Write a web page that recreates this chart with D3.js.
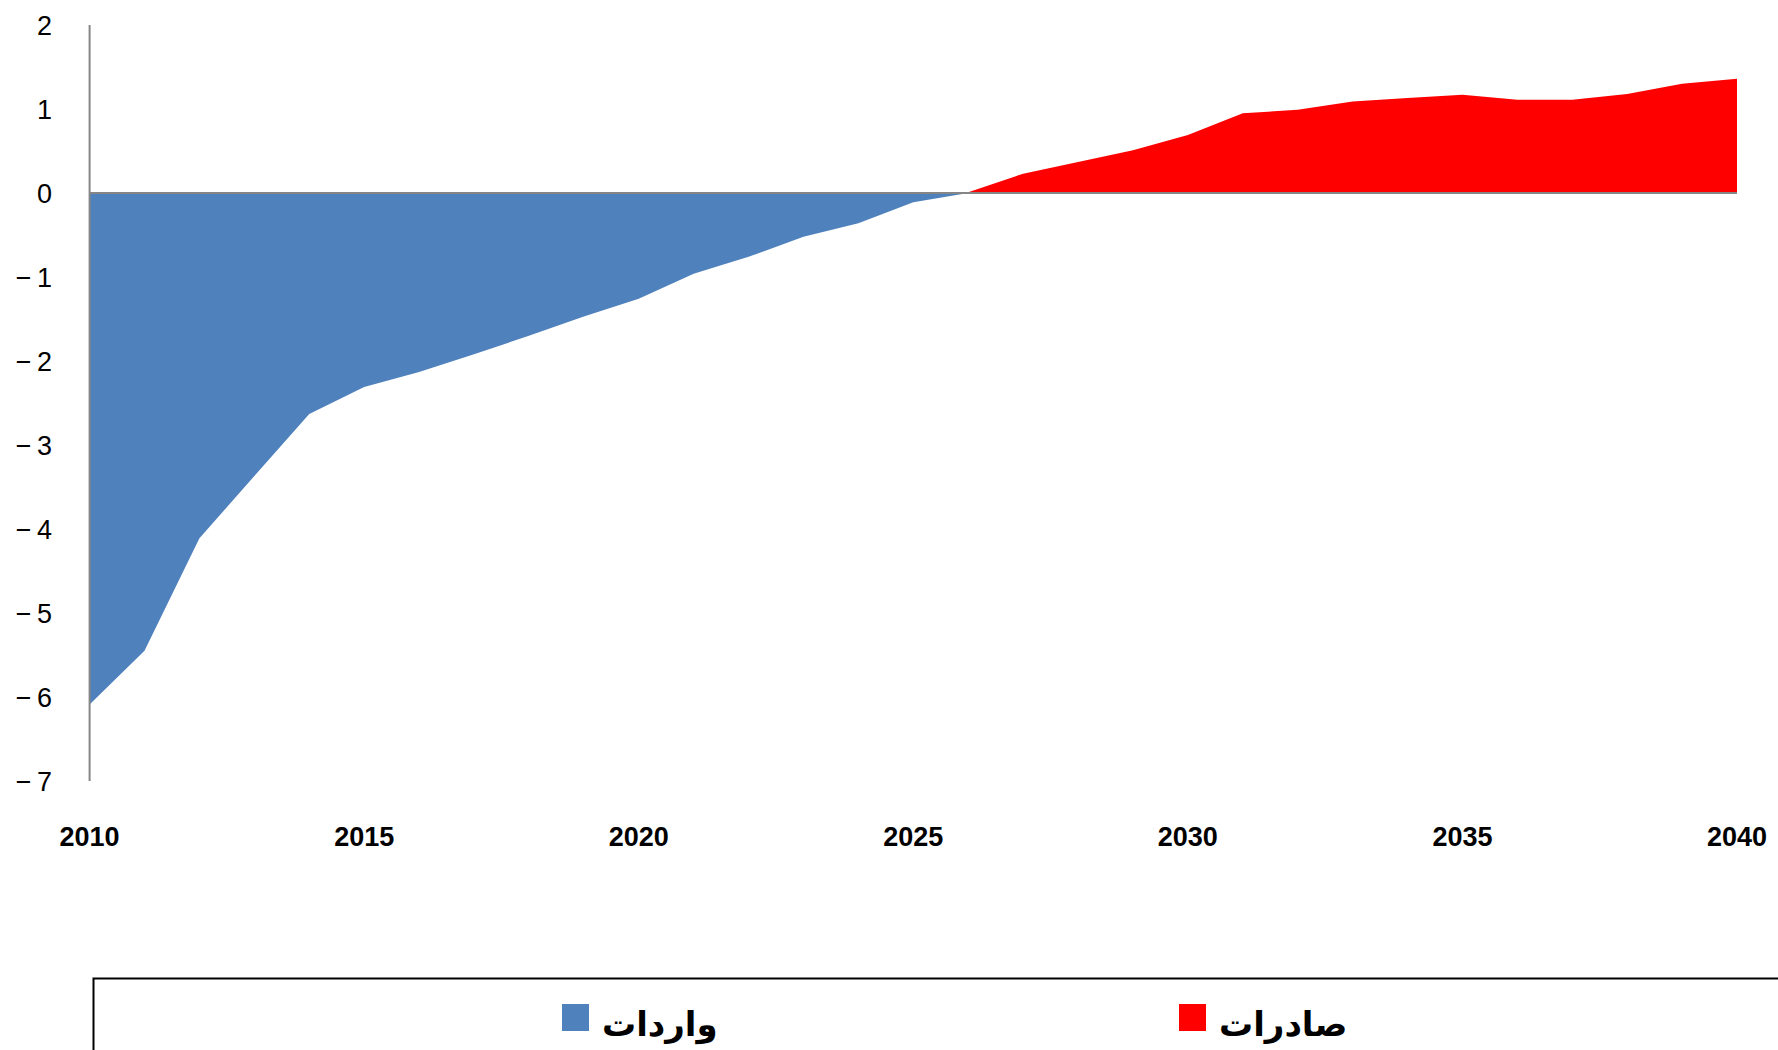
<!DOCTYPE html>
<html>
<head>
<meta charset="utf-8">
<script src="https://cdn.jsdelivr.net/npm/d3@7"></script>
<style>
  html, body { margin: 0; padding: 0; background: #fff; }
  svg { display: block; }
</style>
</head>
<body>
<script>
// data
const years = [2010, 2011, 2012, 2013, 2014, 2015, 2016, 2017, 2018, 2019, 2020,
               2021, 2022, 2023, 2024, 2025, 2026, 2027, 2028, 2029, 2030,
               2031, 2032, 2033, 2034, 2035, 2036, 2037, 2038, 2039, 2040];
const imports = [-6.09, -5.45, -4.11, -3.37, -2.63, -2.31, -2.13, -1.92, -1.70, -1.47, -1.26,
                 -0.96, -0.76, -0.52, -0.36, -0.11, 0, 0, 0, 0, 0,
                 0, 0, 0, 0, 0, 0, 0, 0, 0, 0];
const exports = [0, 0, 0, 0, 0, 0, 0, 0, 0, 0, 0,
                 0, 0, 0, 0, 0, 0.01, 0.23, 0.37, 0.51, 0.69,
                 0.95, 0.99, 1.09, 1.13, 1.17, 1.11, 1.11, 1.18, 1.30, 1.36];
const yTicks = [2, 1, 0, -1, -2, -3, -4, -5, -6, -7];
const xTicks = [2010, 2015, 2020, 2025, 2030, 2035, 2040];
const seriesNames = ["واردات", "صادرات"];
const seriesColors = ["#4f81bd", "#ff0000"];

const W = 1778, H = 1050;

let svg = d3.select("body")
  .append("svg")
    .attr("width", W)
    .attr("height", H);

let x = d3.scaleLinear().domain([2010, 2040]).range([89.6, 1737]);
let y = d3.scaleLinear().domain([2, -7]).range([25, 781]);

// AREAS
let area = vals => d3.area()
    .x((d, i) => x(years[i]))
    .y0(y(0))
    .y1((d, i) => y(vals[i]))(vals);

svg.append("path")
    .attr("d", area(imports))
    .attr("fill", seriesColors[0]);

svg.append("path")
    .attr("d", area(exports))
    .attr("fill", seriesColors[1]);

// AXES (lines only, labels drawn by hand below)
svg.append("line")
    .attr("x1", x(2010)).attr("x2", x(2010))
    .attr("y1", y(2)).attr("y2", y(-7))
    .attr("stroke", "#868686")
    .attr("stroke-width", 2);

svg.append("line")
    .attr("x1", x(2010)).attr("x2", x(2040))
    .attr("y1", y(0)).attr("y2", y(0))
    .attr("stroke", "#868686")
    .attr("stroke-width", 2);

svg.selectAll(".ylab")
  .data(yTicks)
  .enter().append("text")
    .attr("class", "ylab")
    .attr("x", 52)
    .attr("y", d => y(d))
    .attr("dy", "0.36em")
    .attr("text-anchor", "end")
    .style("font-family", "'Liberation Sans', Arial, sans-serif")
    .style("font-size", "27px")
    .attr("fill", "#000")
    .text(d => d < 0 ? "\u2212\u2009" + Math.abs(d) : d);

svg.selectAll(".xlab")
  .data(xTicks)
  .enter().append("text")
    .attr("class", "xlab")
    .attr("x", d => x(d))
    .attr("y", 846)
    .attr("text-anchor", "middle")
    .style("font-family", "'Liberation Sans', Arial, sans-serif")
    .style("font-size", "27px")
    .style("font-weight", "bold")
    .attr("fill", "#000")
    .text(d => d);

// LEGEND
svg.append("path")
    .attr("d", "M93.5," + H + " V978.5 H" + W)
    .attr("fill", "none")
    .attr("stroke", "#000")
    .attr("stroke-width", 2);

let legendX = [562, 1179];
let leg = svg.selectAll(".leg")
  .data(seriesNames)
  .enter().append("g")
    .attr("class", "leg")
    .attr("transform", (d, i) => "translate(" + legendX[i] + ",1004)");

leg.append("rect")
    .attr("width", 27)
    .attr("height", 27)
    .attr("fill", (d, i) => seriesColors[i]);

leg.append("text")
    .attr("x", 40)
    .attr("y", 32)
    .style("font-family", "'DejaVu Sans', sans-serif")
    .style("font-size", "34px")
    .style("font-weight", "bold")
    .attr("fill", "#000")
    .text(d => d);
</script>
</body>
</html>
